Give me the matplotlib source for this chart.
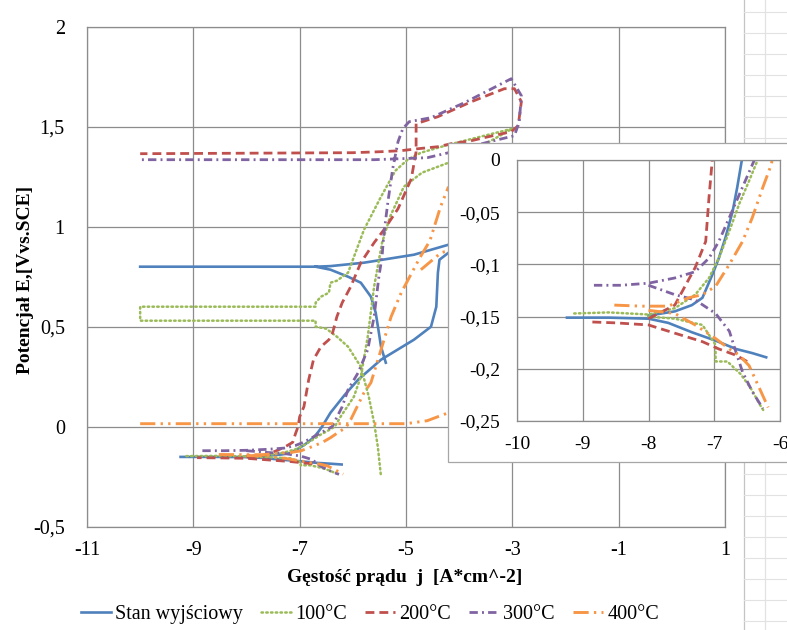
import numpy as np
import matplotlib
matplotlib.use("Agg")
import matplotlib.pyplot as plt
from matplotlib.lines import Line2D
from matplotlib.patches import Rectangle

nan = np.nan

# ---------------- data (log j, E) ----------------
series_names = ["Stan wyjściowy", "100°C", "200°C", "300°C", "400°C"]

blue_x = [-9.24, -8.6, -8.0, -7.7, -7.34, -6.98, -6.67, -6.42, -6.21, nan,
          -8.0, -7.6, -7.34, -7.18, -7.03, -6.93, -6.83, -6.72, -6.65, -6.58, -6.42, -6.15, -5.9, -5.47,
          -4.85, -4.53, -4.43, -4.4, -4.37, -4.2, -3.9, -3.9, -4.2, -4.85, -5.79, -6.42, -6.7, -8.0, -10.0, nan,
          -6.7, -6.42, -6.09, -5.85, -5.66, -5.57, -5.51, -5.47, -5.38]
blue_y = [-0.151, -0.151, -0.152, -0.156, -0.165, -0.173, -0.181, -0.185, -0.189, nan,
          -0.149, -0.145, -0.139, -0.132, -0.11, -0.094, -0.0745, -0.049, -0.026, 0.0, 0.07, 0.16, 0.235, 0.335,
          0.435, 0.5, 0.6, 0.77, 0.835, 0.87, 0.89, 0.93, 0.91, 0.86, 0.82, 0.803, 0.8, 0.8, 0.8, nan,
          0.8, 0.785, 0.75, 0.72, 0.65, 0.57, 0.47, 0.4, 0.32]

green_x = [-9.13, -8.6, -8.0, -7.6, -7.29, -7.08, -6.93, -6.77, -6.62, -6.47, -6.34, -6.23, -5.98, -5.85,
           -5.72, -5.6, -5.45, -5.3, -5.04, -4.7, -4.4, -4.2, -3.6, -3.0, -3.3, -4.2, -4.72, -4.97, -5.2,
           -5.47, -5.79, -6.09, -6.3, -6.42, -6.45, -6.6, -6.7, -6.7, -10.0, -10.0, -6.7, -6.7, -6.5, -6.4,
           -6.3, -6.09, -5.85, -5.7, -5.6, -5.53, -5.47, nan,
           -8.0, -7.6, -7.18, -6.98, -6.98, -6.8, -6.6, -6.45, -6.3, -6.25]
green_y = [-0.147, -0.146, -0.148, -0.142, -0.129, -0.113, -0.094, -0.068, -0.042, -0.02, 0.0, 0.05, 0.15, 0.25,
           0.45, 0.7, 0.92, 1.05, 1.2, 1.27, 1.3, 1.32, 1.4, 1.49, 1.47, 1.41, 1.37, 1.335, 1.28,
           1.15, 0.985, 0.77, 0.73, 0.72, 0.67, 0.65, 0.62, 0.6, 0.6, 0.53, 0.53, 0.5, 0.49, 0.47,
           0.45, 0.4, 0.3, 0.15, 0.02, -0.1, -0.25, nan,
           -0.15, -0.152, -0.158, -0.177, -0.193, -0.193, -0.205, -0.218, -0.235, -0.24]

red_x = [-6.5, -6.67, -6.93, -7.18, -7.49, -7.85, -8.0, -8.5, -8.93, nan,
         -8.0, -7.6, -7.29, -7.13, -7.08, -7.03, -7.0, -6.92, -6.83, -6.74, -6.6, -6.45, -6.38, -6.3,
         -6.2, -6.04, -5.85, -5.6, -5.4, -5.15, -4.9, -4.81, -4.81, -4.4, -3.77, -3.15, -2.96, -2.83,
         -2.89, -3.02, -3.45, -3.77, -4.15, -4.4, -4.77, -5.1, -5.47, -6.0, -10.0]
red_y = [-0.193, -0.187, -0.181, -0.174, -0.168, -0.161, -0.158, -0.156, -0.155, nan,
         -0.152, -0.139, -0.103, -0.078, -0.036, 0.0, 0.05, 0.1, 0.235, 0.335, 0.4, 0.435, 0.47, 0.55,
         0.62, 0.7, 0.82, 0.92, 0.99, 1.09, 1.24, 1.375, 1.515, 1.55, 1.625, 1.69, 1.69, 1.625,
         1.505, 1.475, 1.45, 1.43, 1.415, 1.40, 1.39, 1.38, 1.375, 1.37, 1.365]

purple_x = [-8.83, -8.42, -8.0, -7.6, -7.29, -7.08, -6.93, -6.77, -6.57, -6.39, -6.2, -6.09, -5.9, -5.72,
            -5.6, -5.51, -5.45, -5.42, -5.34, -5.25, -5.15, -5.06, -4.94, -4.53, -3.9, -3.02, -2.83,
            -2.87, -2.96, -3.5, -4.2, -4.6, -5.1, -5.6, -10.0, nan,
            -8.0, -7.6, -7.29, -6.98, -6.77, -6.67, -6.57, -6.42, -6.26]
purple_y = [-0.12, -0.12, -0.118, -0.113, -0.107, -0.094, -0.078, -0.055, -0.026, 0.0, 0.1, 0.185, 0.27, 0.385,
            0.55, 0.75, 0.85, 0.955, 1.125, 1.29, 1.425, 1.49, 1.525, 1.545, 1.62, 1.74, 1.655,
            1.525, 1.455, 1.42, 1.37, 1.345, 1.34, 1.335, 1.335, nan,
            -0.12, -0.129, -0.134, -0.147, -0.164, -0.184, -0.203, -0.222, -0.238]

orange_x = [-8.52, -8.1, -7.7, -7.39, -7.18, -6.98, -6.77, -6.57, -6.42, -6.26, -6.13, -6.04, -5.79, -5.66,
            -5.47, -5.28, -5.09, -4.96, -4.75, -4.55, -4.35, -4.2, nan,
            -4.72, -4.34, -4.2, nan,
            -8.0, -7.6, -7.29, -6.98, -6.77, -6.62, -6.47, -6.31, -6.18, nan,
            -10.0, -5.0, -4.6, -4.2, -3.8]
orange_y = [-0.139, -0.14, -0.14, -0.132, -0.129, -0.121, -0.1, -0.078, -0.055, -0.026, -0.004, 0.035, 0.17, 0.22,
            0.385, 0.55, 0.67, 0.735, 0.84, 0.93, 1.1, 1.2, nan,
            0.785, 0.87, 0.88, nan,
            -0.144, -0.147, -0.158, -0.171, -0.181, -0.187, -0.197, -0.219, -0.237, nan,
            0.015, 0.015, 0.03, 0.07, 0.12]

main_xticks = [-11, -9, -7, -5, -3, -1, 1]
main_xticklabels = ["-11", "-9", "-7", "-5", "-3", "-1", "1"]
main_yticks = [-0.5, 0, 0.5, 1, 1.5, 2]
main_yticklabels = ["-0,5", "0", "0,5", "1", "1,5", "2"]
inset_xticks = [-10, -9, -8, -7, -6]
inset_xticklabels = ["-10", "-9", "-8", "-7", "-6"]
inset_yticks = [-0.25, -0.2, -0.15, -0.1, -0.05, 0]
inset_yticklabels = ["-0,25", "-0,2", "-0,15", "-0,1", "-0,05", "0"]

x_label = "Gęstość prądu  j  [A*cm^-2]"
y_label = "Potencjał E,[Vvs.SCE]"

# ---------------- styles ----------------
plt.rcParams["font.family"] = ["Liberation Serif", "DejaVu Serif"]
W, H = 787, 630
grid_col = "#8c8c8c"
styles = [
    dict(color="#4F81BD", lw=1.9, ls="-"),
    dict(color="#9BBB59", lw=1.8, ls=(0, (0.6, 1.3)), dash_capstyle="round"),
    dict(color="#C0504D", lw=2.0, ls=(0, (3.2, 1.8))),
    dict(color="#8064A2", lw=2.0, ls=(0, (3.0, 1.5, 0.7, 1.5))),
    dict(color="#F79646", lw=2.1, ls=(0, (5.2, 1.8, 0.8, 1.8, 0.8, 1.8))),
]
data = [(blue_x, blue_y), (green_x, green_y), (red_x, red_y), (purple_x, purple_y), (orange_x, orange_y)]

fig = plt.figure(figsize=(W / 100, H / 100), dpi=100)
fig.patch.set_facecolor("white")

def fx(px):
    return px / W

def fy(py):
    return 1 - py / H

# Excel sheet cell lines at the right
for px in (744, 765):
    fig.add_artist(Line2D([fx(px), fx(px)], [0, 1], transform=fig.transFigure,
                          color="#c4c4c4" if px == 744 else "#e2e2e2", lw=0.9, zorder=0.5))
for py in np.arange(12, 630, 21):
    fig.add_artist(Line2D([fx(744), 1], [fy(py), fy(py)], transform=fig.transFigure,
                          color="#e2e2e2", lw=0.8, zorder=0.5))

# main axes
L, R, T, B = 87, 725, 26.7, 526.7
ax = fig.add_axes([fx(L), fy(B), (R - L) / W, (B - T) / H])
ax.set_zorder(1)
ax.set_facecolor("white")
ax.set_xlim(-11, 1)
ax.set_ylim(-0.5, 2)
ax.set_xticks(main_xticks)
ax.set_xticklabels(main_xticklabels)
ax.set_yticks(main_yticks)
ax.set_yticklabels(main_yticklabels)
ax.grid(True, color=grid_col, lw=0.9)
ax.set_axisbelow(True)
for s in ax.spines.values():
    s.set_color(grid_col)
    s.set_linewidth(0.9)
ax.tick_params(length=0, labelsize=14.5)
ax.tick_params(axis="x", pad=10)
ax.tick_params(axis="y", pad=16)
ax.set_xlabel(x_label, fontsize=14, fontweight="bold")
ax.set_ylabel(y_label, fontsize=14, fontweight="bold")
ax.xaxis.set_label_coords((405 - L) / (R - L), -(578 - B) / (B - T))
ax.yaxis.set_label_coords(-(L - 25) / (R - L), (B - 280) / (B - T))
ax.xaxis.label.set_va("center")
ax.yaxis.label.set_va("center")

handles = []
for (xs, ys), st in zip(data, styles):
    ln, = ax.plot(xs, ys, **st)
    handles.append(ln)

# inset box
fig.add_artist(Rectangle((fx(448), fy(461.7)), (800 - 448) / W, (461.7 - 143.3) / H,
                         transform=fig.transFigure, facecolor="white", edgecolor="#a6a6a6",
                         lw=0.9, zorder=2))
iL, iR, iT, iB = 517, 780, 160, 421
axi = fig.add_axes([fx(iL), fy(iB), (iR - iL) / W, (iB - iT) / H])
axi.set_zorder(3)
axi.set_facecolor("white")
axi.set_xlim(-10, -6)
axi.set_ylim(-0.25, 0)
axi.set_xticks(inset_xticks)
axi.set_xticklabels(inset_xticklabels)
axi.set_yticks(inset_yticks)
axi.set_yticklabels(inset_yticklabels)
axi.grid(True, color=grid_col, lw=0.9)
axi.set_axisbelow(True)
for s in axi.spines.values():
    s.set_color(grid_col)
    s.set_linewidth(0.9)
axi.tick_params(length=0, labelsize=14)
axi.tick_params(axis="x", pad=11)
axi.tick_params(axis="y", pad=12)
for (xs, ys), st in zip(data, styles):
    axi.plot(xs, ys, **st)

fig.legend(handles, series_names, loc="center", bbox_to_anchor=(0.47, 0.024), ncol=5,
           frameon=False, fontsize=14.5, handlelength=1.5, handletextpad=0.2, columnspacing=0.9)

fig.savefig("out.png", dpi=100, facecolor="white")
